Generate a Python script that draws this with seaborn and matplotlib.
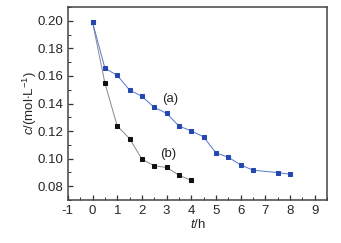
import pandas as pd
import seaborn as sns
import matplotlib.pyplot as plt
from matplotlib.ticker import MultipleLocator

time_a = [0, 0.5, 1, 1.5, 2, 2.5, 3, 3.5, 4, 4.5, 5, 5.5, 6, 6.5, 7.5, 8]
conc_a = [0.199, 0.1657, 0.1604, 0.1498, 0.1452, 0.1372, 0.1329, 0.1237,
          0.1201, 0.1158, 0.1042, 0.1010, 0.0955, 0.0916, 0.0899, 0.0887]
time_b = [0, 0.5, 1, 1.5, 2, 2.5, 3, 3.5, 4]
conc_b = [0.199, 0.1549, 0.1237, 0.1146, 0.0996, 0.0948, 0.0936, 0.0880, 0.0842]

sns.set_style('ticks')
plt.rcParams['font.family'] = ['Liberation Sans', 'DejaVu Sans']
plt.rcParams['axes.unicode_minus'] = False
plt.rcParams['mathtext.fontset'] = 'custom'
plt.rcParams['mathtext.rm'] = 'Liberation Sans'
plt.rcParams['mathtext.it'] = 'Liberation Sans:italic'

df_a = pd.DataFrame({'t': time_a, 'c': conc_a})
df_b = pd.DataFrame({'t': time_b, 'c': conc_b})

fig = plt.figure(figsize=(3.41, 2.43), dpi=100)
ax = fig.add_axes([0.199, 0.177, 0.760, 0.794])

sns.lineplot(data=df_b, x='t', y='c', ax=ax, color='#888888', lw=0.7,
             marker='s', markersize=3.2, markerfacecolor='#111111',
             markeredgecolor='#111111')
sns.lineplot(data=df_a, x='t', y='c', ax=ax, color='#5577cc', lw=0.7,
             marker='s', markersize=3.2, markerfacecolor='#2448b0',
             markeredgecolor='#2448b0')

ax.text(3.15, 0.1435, '(a)', fontsize=9.5, ha='center', va='center')
ax.text(3.07, 0.1037, '(b)', fontsize=9.5, ha='center', va='center')

ax.set_xlim(-1, 9.5)
ax.set_ylim(0.07, 0.21)
ax.xaxis.set_major_locator(MultipleLocator(1))
ax.xaxis.set_minor_locator(MultipleLocator(0.5))
ax.yaxis.set_major_locator(MultipleLocator(0.02))
ax.yaxis.set_minor_locator(MultipleLocator(0.01))
ax.yaxis.set_major_formatter(plt.FormatStrFormatter('%.2f'))
ax.tick_params(which='both', direction='in', color='#333333')
ax.tick_params(which='major', length=3.5, width=0.9, labelsize=9.5)
ax.tick_params(which='minor', length=2, width=0.7)
for s in ax.spines.values():
    s.set_linewidth(1.1)
    s.set_color('#444444')

ax.set_xlabel(r'$\it{t}$/h', fontsize=9.5, labelpad=1)
ax.set_ylabel(r'$\it{c}$/(mol$\cdot$L$^{-1}$)', fontsize=9.5, labelpad=-1)

plt.savefig('out.png', dpi=100)
